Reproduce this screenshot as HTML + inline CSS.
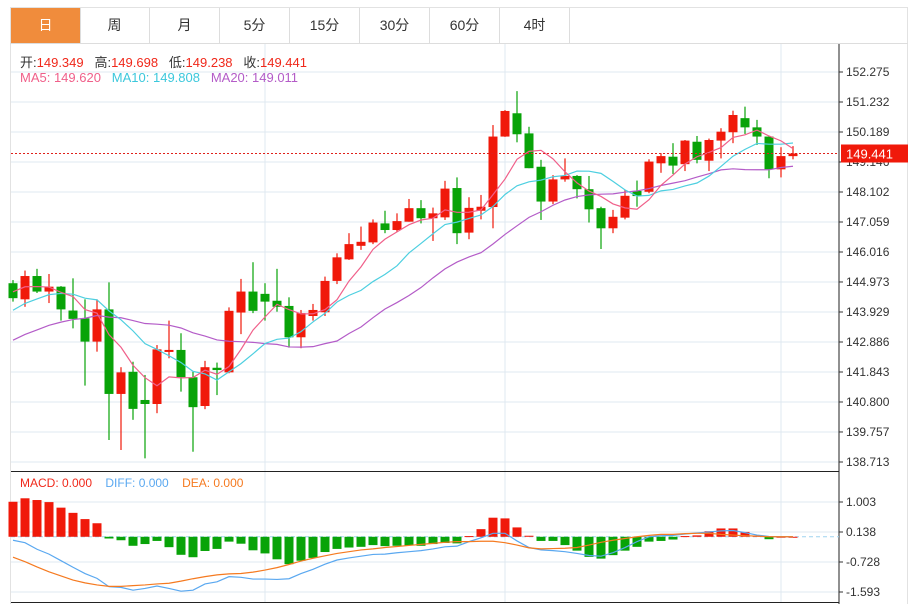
<!DOCTYPE html>
<html><head><meta charset="utf-8"><style>
body{margin:0;background:#fff;font-family:"Liberation Sans","Noto Sans CJK SC",sans-serif;}
#wrap{position:relative;width:916px;height:604px;overflow:hidden;}
#frame{position:absolute;left:10px;top:7px;width:898px;height:600px;border:1px solid #e2e2e2;box-sizing:border-box;}
.tab{position:absolute;top:8px;height:35px;width:70px;line-height:35px;text-align:center;font-size:14px;color:#333;border-right:1px solid #ddd;box-sizing:border-box;}
.tab.on{background:#f08c3c;color:#fff;}
#tabline{position:absolute;left:10px;top:43px;width:898px;height:1px;background:#ddd;}
.info{position:absolute;left:20px;font-size:13px;white-space:nowrap;}
</style></head><body>
<div id="wrap">
<div id="frame"></div>
<div class="tab on" style="left:11px">日</div>
<div class="tab" style="left:80px">周</div>
<div class="tab" style="left:150px">月</div>
<div class="tab" style="left:220px">5分</div>
<div class="tab" style="left:290px">15分</div>
<div class="tab" style="left:360px">30分</div>
<div class="tab" style="left:430px">60分</div>
<div class="tab" style="left:500px">4时</div>
<div id="tabline"></div>
<svg id="chart" width="916" height="604" style="position:absolute;left:0;top:0"></svg>
<div class="info" style="top:52px;color:#333">开:<span style="color:#f0281a">149.349</span>&nbsp;&nbsp; 高:<span style="color:#f0281a">149.698</span>&nbsp;&nbsp; 低:<span style="color:#f0281a">149.238</span>&nbsp;&nbsp; 收:<span style="color:#f0281a">149.441</span></div>
<div class="info" style="top:70px"><span style="color:#f0608a">MA5: 149.620</span>&nbsp;&nbsp; <span style="color:#3cc8dc">MA10: 149.808</span>&nbsp;&nbsp; <span style="color:#b45cc8">MA20: 149.011</span></div>
<div class="info" style="top:476px;font-size:12px"><span style="color:#f0281a">MACD: 0.000</span>&nbsp;&nbsp;&nbsp; <span style="color:#5aa8f0">DIFF: 0.000</span>&nbsp;&nbsp;&nbsp; <span style="color:#f57a20">DEA: 0.000</span></div>
</div>
<script>
const opens=[144.93,144.37,145.18,144.64,144.81,143.98,143.71,142.90,144.02,141.08,141.85,140.87,140.73,142.55,142.61,141.66,140.66,141.99,141.83,143.91,144.64,144.56,144.32,144.14,143.05,143.79,143.92,145.01,145.76,146.23,146.35,147.01,146.78,147.07,147.54,147.19,147.22,148.24,146.69,147.45,147.58,150.03,150.84,150.14,148.98,147.77,148.54,148.66,148.20,147.54,146.84,147.21,148.14,148.11,149.10,149.33,149.07,149.85,149.19,149.89,150.18,150.67,150.35,150.03,148.89,149.349];
const highs=[145.04,145.37,145.43,145.25,144.83,145.10,144.37,144.37,144.96,142.01,142.20,141.74,142.78,143.63,143.19,141.85,142.23,142.17,144.09,145.08,145.66,144.93,145.43,144.44,144.00,144.21,145.16,145.97,146.67,146.90,147.15,147.45,147.36,147.86,147.82,147.56,148.49,148.61,147.92,148.00,150.43,150.95,151.61,150.37,149.22,148.69,149.27,148.69,148.66,147.59,147.48,148.17,148.50,149.24,149.45,149.80,149.91,150.05,149.96,150.32,150.93,151.07,150.61,150.03,149.66,149.698];
const lows=[144.29,144.11,144.59,144.24,143.63,143.36,141.37,142.55,139.48,139.13,140.18,138.84,140.41,142.32,141.16,139.07,140.55,141.04,141.80,143.16,143.89,143.63,143.94,142.69,142.67,143.63,143.79,144.90,145.74,146.09,146.29,146.67,146.72,147.07,147.01,146.40,147.13,146.29,146.46,147.15,146.84,150.02,149.83,148.93,147.13,147.68,148.46,147.88,147.04,146.12,146.67,147.15,147.59,148.06,148.77,148.73,148.83,149.10,148.83,149.27,149.80,150.12,149.74,148.58,148.61,149.238];
const closes=[144.41,145.18,144.64,144.81,144.02,143.69,142.90,144.02,141.08,141.83,140.56,140.73,142.63,142.61,141.66,140.62,142.01,141.91,143.97,144.64,143.97,144.29,144.11,143.05,143.89,144.00,145.01,145.83,146.29,146.37,147.04,146.78,147.09,147.54,147.19,147.36,148.22,146.67,147.55,147.59,150.03,150.92,150.11,148.93,147.77,148.54,148.66,148.20,147.50,146.84,147.24,147.97,147.96,149.16,149.35,149.02,149.89,149.22,149.91,150.20,150.78,150.35,150.03,148.89,149.35,149.441];
const priorCloses=[141.2,141.5,141.6,141.8,141.9,142.0,142.1,142.2,142.3,142.5,142.8,143.1,143.3,143.6,143.95,144.3,144.6,144.9,144.94];
const priceTicks=["152.275","151.232","150.189","149.146","148.102","147.059","146.016","144.973","143.929","142.886","141.843","140.800","139.757","138.713"];
const macdHist=[1.01,1.11,1.06,1.00,0.84,0.69,0.51,0.39,-0.05,-0.10,-0.26,-0.21,-0.12,-0.30,-0.52,-0.59,-0.41,-0.35,-0.14,-0.20,-0.39,-0.48,-0.65,-0.79,-0.69,-0.61,-0.44,-0.35,-0.31,-0.29,-0.24,-0.27,-0.26,-0.25,-0.26,-0.21,-0.18,-0.19,0.02,0.22,0.55,0.53,0.27,0.03,-0.12,-0.12,-0.24,-0.40,-0.58,-0.63,-0.53,-0.40,-0.29,-0.14,-0.12,-0.08,0.02,0.04,0.16,0.24,0.24,0.14,0.03,-0.07,0.0,0.0];
const diffVals=[-0.10,-0.17,-0.36,-0.50,-0.69,-0.88,-1.06,-1.20,-1.44,-1.46,-1.54,-1.49,-1.42,-1.49,-1.57,-1.54,-1.36,-1.30,-1.15,-1.17,-1.22,-1.22,-1.23,-1.21,-1.06,-0.94,-0.79,-0.67,-0.61,-0.56,-0.51,-0.50,-0.46,-0.43,-0.40,-0.35,-0.29,-0.27,-0.14,-0.03,0.10,0.10,-0.12,-0.31,-0.38,-0.40,-0.43,-0.48,-0.54,-0.56,-0.46,-0.31,-0.14,0.0,0.03,0.04,0.08,0.11,0.14,0.17,0.18,0.12,0.05,0.01,0.0,0.0];
const deaVals=[-0.59,-0.72,-0.87,-1.01,-1.13,-1.25,-1.33,-1.39,-1.43,-1.43,-1.41,-1.39,-1.36,-1.34,-1.28,-1.21,-1.15,-1.10,-1.07,-1.06,-1.02,-0.96,-0.89,-0.80,-0.70,-0.62,-0.55,-0.48,-0.43,-0.38,-0.35,-0.31,-0.28,-0.25,-0.22,-0.19,-0.16,-0.14,-0.14,-0.13,-0.13,-0.17,-0.24,-0.32,-0.35,-0.34,-0.33,-0.31,-0.24,-0.16,-0.10,-0.05,0.0,0.04,0.07,0.07,0.09,0.10,0.10,0.07,0.05,0.03,0.02,0.0,0.0,0.0];
const macdTicks=["1.003","0.138","-0.728","-1.593"];
const lastPrice=149.441;

const NS="http://www.w3.org/2000/svg";
const svg=document.getElementById('chart');
const RED="#f0190a",GREEN="#08a308",GRID="#dfe9f1";
const X0=13,STEP=12,RIGHT=839;
const pMax=152.275,pMin=138.713,yTop=72,yBot=462;
function py(v){return yTop+(pMax-v)/(pMax-pMin)*(yBot-yTop);}
function xAt(i){return X0+i*STEP;}
const mTop=1.003,mBot=-1.593,myTop=502,myBot=592;
function my(v){return myTop+(mTop-v)/(mTop-mBot)*(myBot-myTop);}
function el(tag,attrs,parent){const e=document.createElementNS(NS,tag);for(const k in attrs)e.setAttribute(k,attrs[k]);(parent||svg).appendChild(e);return e;}

// grids
priceTicks.forEach(t=>{const y=py(parseFloat(t));
 const g=el('line',{x1:11,x2:RIGHT,y1:y,y2:y,stroke:GRID,'stroke-width':1});
 
 
 const tk=el('line',{x1:RIGHT,x2:RIGHT+4,y1:y,y2:y,stroke:'#333'});
 
 
 const tx=el('text',{x:846,y:y+4,'font-size':12,fill:'#333','font-family':'Liberation Sans, sans-serif'});
 tx.textContent=t;
 
 
});
macdTicks.forEach(t=>{const y=my(parseFloat(t));
 const g=el('line',{x1:11,x2:RIGHT,y1:y,y2:y,stroke:GRID,'stroke-width':1});
 
 
 const tk=el('line',{x1:RIGHT,x2:RIGHT+4,y1:y,y2:y,stroke:'#333'});
 
 
 const tx=el('text',{x:846,y:y+4,'font-size':12,fill:'#333','font-family':'Liberation Sans, sans-serif'});
 tx.textContent=t;
 
 
});
[265,505,781].forEach(x=>{
 const v=el('line',{x1:x,x2:x,y1:44,y2:602,stroke:GRID});
 
 
});
// axis lines
const ax=el('line',{x1:RIGHT,x2:RIGHT,y1:44,y2:604,stroke:'#222'});


const sep=el('line',{x1:11,x2:RIGHT,y1:471.5,y2:471.5,stroke:'#222'});


const bot=el('line',{x1:11,x2:RIGHT,y1:602.5,y2:602.5,stroke:'#222'});



// MACD zero line
const zl=el('line',{x1:11,x2:RIGHT,y1:my(0),y2:my(0),stroke:'#9fd3ef','stroke-dasharray':'4,3'});


// MACD histogram
macdHist.forEach((v,i)=>{const y0=my(0),y1=my(v);
 const r=el('rect',{x:xAt(i)-4.5,y:Math.min(y0,y1),width:9,height:Math.max(1,Math.abs(y1-y0)),fill:v>=0?RED:GREEN});
 
 
});
function poly(vals,fy,color,name){
 const pts=vals.map((v,i)=>xAt(i)+','+fy(v)).join(' ');
 const p=el('polyline',{points:pts,fill:'none',stroke:color,'stroke-width':1.2});
 
 
}
poly(diffVals,my,'#5aa8f0','diff-line');
poly(deaVals,my,'#f57a20','dea-line');

// candles
for(let i=0;i<closes.length;i++){
 const up=closes[i]>=opens[i];const c=up?RED:GREEN;const x=xAt(i);
 const w=el('line',{x1:x,x2:x,y1:py(highs[i]),y2:py(lows[i]),stroke:c,'stroke-width':1.2});
 
 
 const t=py(Math.max(opens[i],closes[i])),b=py(Math.min(opens[i],closes[i]));
 const r=el('rect',{x:x-4.5,y:t,width:9,height:Math.max(2,b-t),fill:c});
 
 
}
// moving averages
const allC=priorCloses.concat(closes);
function ma(n){return closes.map((_,i)=>{const j=i+priorCloses.length;let s=0;for(let k=j-n+1;k<=j;k++)s+=allC[k];return s/n;});}
poly(ma(20),py,'#b45cc8','ma20-line');
poly(ma(10),py,'#4dcfe0','ma10-line');
poly(ma(5),py,'#f0608a','ma5-line');

// last price line + label
const ly=py(lastPrice);
const dl=el('line',{x1:11,x2:RIGHT,y1:ly,y2:ly,stroke:'#e0201a','stroke-dasharray':'2,2'});


const lb=el('rect',{x:841,y:ly-9,width:67,height:18,fill:'#f0190a'});


const lt=el('text',{x:846,y:ly+5,'font-size':13,fill:'#fff','font-family':'Liberation Sans, sans-serif'});
lt.textContent=lastPrice.toFixed(3);


</script>
</body></html>
